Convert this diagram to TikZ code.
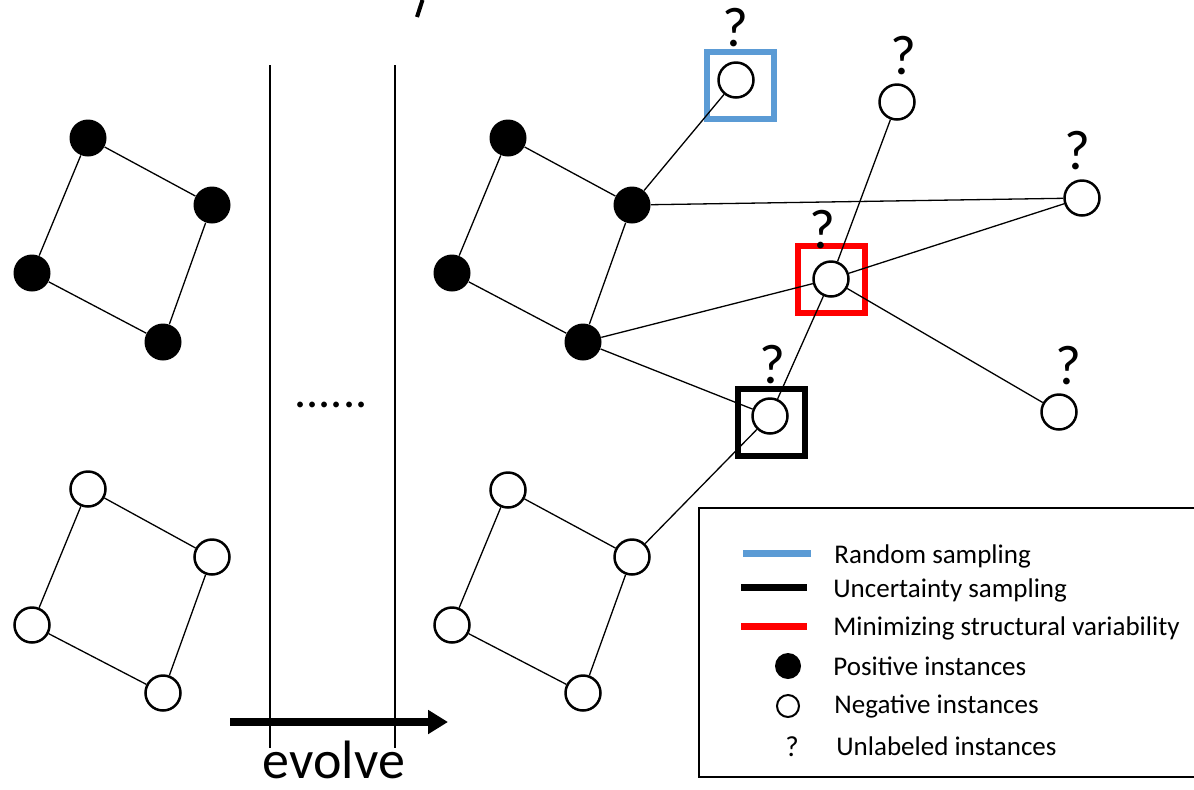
\documentclass[tikz,border=0pt]{standalone}
\usepackage{fontspec}
\setmainfont{Carlito}
\usetikzlibrary{arrows.meta}
\definecolor{rblue}{RGB}{91,155,213}
\definecolor{mred}{RGB}{255,0,0}

\begin{document}
\begin{tikzpicture}[x=0.5pt,y=-0.5pt,
  pos node/.style={circle,fill=black,inner sep=0pt,minimum size=18.5pt},
  neg node/.style={circle,draw,fill=white,line width=1.25pt,inner sep=0pt,minimum size=17.5pt},
  qmark/.style={inner sep=0pt,font=\fontsize{28}{28}\selectfont},
  pick box/.style={draw=#1,line width=3pt,inner sep=0pt,minimum size=33.5pt},
  link/.style={line width=0.65pt},
  legend text/.style={anchor=base west,inner sep=0pt,font=\fontsize{13.5}{14}\selectfont}]
  \useasboundingbox (0,0) rectangle (1194,789);

  % graph before evolving
  \node[pos node] (1) at (88,138) {};
  \node[pos node] (2) at (212,205) {};
  \node[pos node] (3) at (32,273) {};
  \node[pos node] (4) at (163,342) {};
  \node[neg node] (5) at (88,489) {};
  \node[neg node] (6) at (212,557) {};
  \node[neg node] (7) at (32,625) {};
  \node[neg node] (8) at (163,693) {};

  % graph after evolving
  \node[pos node] (9) at (508,138) {};
  \node[pos node] (10) at (632,205) {};
  \node[pos node] (11) at (452,273) {};
  \node[pos node] (12) at (583,342) {};
  \node[neg node] (13) at (508,490) {};
  \node[neg node] (14) at (632,557) {};
  \node[neg node] (15) at (452,625) {};
  \node[neg node] (16) at (583,693) {};

  % sampled instances
  \node[pick box=rblue] (b1) at (740,85.5) {};
  \node[pick box=mred] (b4) at (831.5,279.5) {};
  \node[pick box=black] (b6) at (771.5,422.5) {};

  % unlabeled instances
  \node[neg node] (u1) at (736,80) {};
  \node[neg node] (u2) at (897,102) {};
  \node[neg node] (u3) at (1082,198) {};
  \node[neg node] (u4) at (831,279) {};
  \node[neg node] (u5) at (1059,412) {};
  \node[neg node] (u6) at (770,416) {};
  \node[qmark] (q1) at (735,28) {?};
  \node[qmark] (q2) at (903,56) {?};
  \node[qmark] (q3) at (1077,151) {?};
  \node[qmark] (q4) at (822,230) {?};
  \node[qmark] (q5) at (1068,366) {?};
  \node[qmark] (q6) at (772,365) {?};

  \path[link]
    (1) edge (2)
    (1) edge (3)
    (3) edge (4)
    (2) edge (4)
    (5) edge (6)
    (5) edge (7)
    (7) edge (8)
    (6) edge (8)
    (9) edge (10)
    (9) edge (11)
    (11) edge (12)
    (10) edge (12)
    (13) edge (14)
    (13) edge (15)
    (15) edge (16)
    (14) edge (16)
    (10) edge (u1)
    (10) edge (u3)
    (12) edge (u4)
    (12) edge (u6)
    (u4) edge (u3)
    (u4) edge (u5)
    (u2) edge (u4)
    (u4) edge (u6)
    (u6) edge (14);

  % time steps
  \draw[link] (270,65) -- (270,748);
  \draw[link] (395,65) -- (395,748);
  \node[inner sep=0pt,font=\fontsize{24}{24}\selectfont] (dots) at (331,405) {......};
  \coordinate (e0) at (230,722);
  \coordinate (e1) at (448,722);
  \draw[line width=4pt,-{Triangle[length=10pt,width=11.5pt]}] (e0) -- (e1);
  \node[anchor=base,inner sep=0pt,font=\fontsize{27}{27}\selectfont] (evolve) at (334,778) {evolve};
  \draw[line width=2pt] (422.5,0) -- (417,17);

  % legend
  \draw[line width=1.3pt] (699,508) rectangle (1200,777);
  \draw[rblue,line width=3.5pt] (743,553) -- (811,553);
  \draw[black,line width=3.5pt] (741,587) -- (807,587);
  \draw[mred,line width=3.5pt] (741,626) -- (807,626);
  \node[circle,fill=black,inner sep=0pt,minimum size=13pt] (lpos) at (788,666) {};
  \node[circle,draw,line width=1pt,inner sep=0pt,minimum size=11pt] (lneg) at (788,706) {};
  \node[anchor=base,inner sep=0pt,font=\fontsize{14.5}{15}\selectfont] (lq) at (792,756) {?};
  \node[legend text] (t1) at (834,563) {Random sampling};
  \node[legend text] (t2) at (833,597) {Uncertainty sampling};
  \node[legend text] (t3) at (833,635) {Minimizing structural variability};
  \node[legend text] (t4) at (833,675) {Positive instances};
  \node[legend text] (t5) at (834,713) {Negative instances};
  \node[legend text] (t6) at (836,755) {Unlabeled instances};
\end{tikzpicture}
\end{document}
